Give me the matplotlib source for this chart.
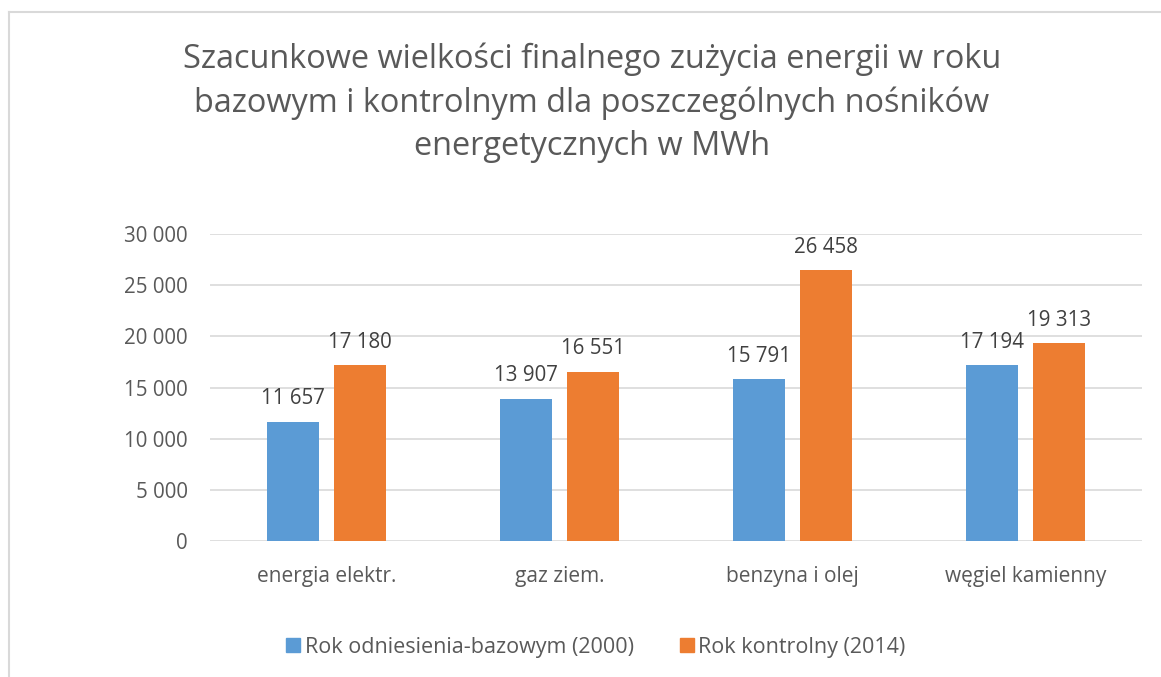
import numpy as np
from matplotlib import pyplot as plt
from matplotlib.ticker import FuncFormatter
from matplotlib.patches import Patch
from matplotlib.lines import Line2D

categories = ["energia elektr.", "gaz ziem.", "benzyna i olej", "węgiel kamienny"]
base_2000 = [11657, 13907, 15791, 17194]
control_2014 = [17180, 16551, 26458, 19313]
series_names = ["Rok odniesienia-bazowym (2000)", "Rok kontrolny (2014)"]
title = ("Szacunkowe wielkości finalnego zużycia energii w roku\n"
         "bazowym i kontrolnym dla poszczególnych nośników\n"
         "energetycznych w MWh")

BLUE = "#5B9BD5"
ORANGE = "#ED7D31"
TEXT = "#595959"
GRID = "#D9D9D9"

plt.rcParams['font.family'] = ['Open Sans', 'DejaVu Sans']


def fmt(v):
    return "{:,}".format(int(v)).replace(",", " ")


fig = plt.figure(figsize=(11.61, 6.77), dpi=100)
ax = fig.add_axes([210 / 1161, 1 - 541 / 677, 932 / 1161, 307 / 677])

x = np.arange(len(categories))
w = 0.223
off = 0.142
b1 = ax.bar(x - off, base_2000, w, color=BLUE, zorder=3)
b2 = ax.bar(x + off, control_2014, w, color=ORANGE, zorder=3)

for bars, vals in ((b1, base_2000), (b2, control_2014)):
    for rect, v in zip(bars, vals):
        ax.annotate(fmt(v), (rect.get_x() + rect.get_width() / 2, v),
                    xytext=(0, 9), textcoords="offset points",
                    ha="center", va="bottom", fontsize=14.8, color="#404040")

ax.set_xlim(-0.5, len(categories) - 0.5)
ax.set_ylim(0, 30000)
ax.set_yticks(np.arange(0, 30001, 5000))
ax.yaxis.set_major_formatter(FuncFormatter(lambda v, p: fmt(v)))
ax.set_xticks(x)
ax.set_xticklabels(categories)
ax.tick_params(axis="y", length=0, colors=TEXT, labelsize=14.8, pad=16)
ax.tick_params(axis="x", length=0, colors=TEXT, labelsize=15, pad=18)
ax.grid(axis="y", color=GRID, linewidth=1.2, zorder=0)
for s in ax.spines.values():
    s.set_visible(False)

fig.text(592 / 1161, 1 - 103 / 677, title, ha="center", va="center",
         fontsize=23.4, color=TEXT, linespacing=1.4)

handles = [Patch(color=BLUE), Patch(color=ORANGE)]
fig.legend(handles, series_names, loc="center", bbox_to_anchor=(596 / 1161, 1 - 647 / 677),
           ncol=2, frameon=False, fontsize=15.5, labelcolor=TEXT,
           handlelength=0.65, handleheight=0.65, handletextpad=0.2, columnspacing=2.15)

# chart frame (left and top edges visible)
fig.add_artist(Line2D([9 / 1161, 9 / 1161], [0, 1 - 12 / 677], transform=fig.transFigure,
                      color="#D9D9D9", linewidth=1.5))
fig.add_artist(Line2D([9 / 1161, 1], [1 - 12 / 677, 1 - 12 / 677], transform=fig.transFigure,
                      color="#D9D9D9", linewidth=1.5))

fig.savefig("out.png", dpi=100, facecolor="white")
